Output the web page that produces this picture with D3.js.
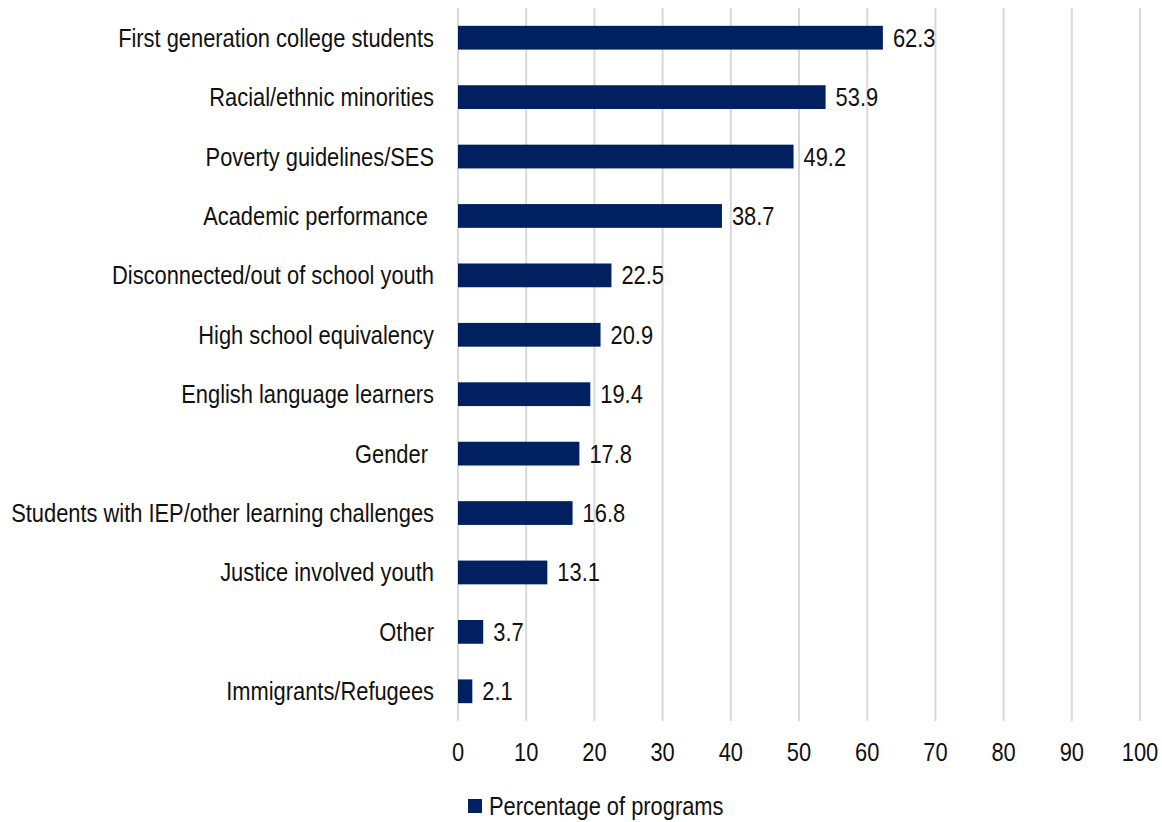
<!DOCTYPE html>
<html>
<head>
<meta charset="utf-8">
<script src="https://cdn.jsdelivr.net/npm/d3@7"></script>
<style>
  body { margin: 0; background: #fff; }
  text { font-family: "Liberation Sans", Arial, sans-serif; fill: #111; white-space: pre; }
</style>
</head>
<body>
<div class="chart"></div>
<script>
const categories = [
    "First generation college students",
    "Racial/ethnic minorities",
    "Poverty guidelines/SES",
    "Academic performance ",
    "Disconnected/out of school youth",
    "High school equivalency",
    "English language learners",
    "Gender ",
    "Students with IEP/other learning challenges",
    "Justice involved youth",
    "Other",
    "Immigrants/Refugees"
];
const values = [62.3, 53.9, 49.2, 38.7, 22.5, 20.9, 19.4, 17.8, 16.8, 13.1, 3.7, 2.1];
const tickValues = [0, 10, 20, 30, 40, 50, 60, 70, 80, 90, 100];
const seriesName = "Percentage of programs";

const width = 1162, height = 822;
const fontSize = 25;
const squeeze = 0.875; // the reference text is a bit condensed

const svg = d3.select(".chart").append("svg")
    .attr("width", width)
    .attr("height", height);

const x = d3.scaleLinear()
    .domain([0, 100])
    .range([458, 1140]);

const y = d3.scaleBand()
    .domain(categories)
    .range([8, 721])
    .paddingInner(0.6)
    .paddingOuter(0.3);

function place(px, py) {
    return `translate(${px},${py}) scale(${squeeze},1)`;
}

// gridlines
svg.append("g")
    .selectAll("line")
    .data(tickValues)
    .enter().append("line")
    .attr("x1", d => x(d))
    .attr("x2", d => x(d))
    .attr("y1", 8)
    .attr("y2", 721)
    .attr("stroke", "#d9d9d9")
    .attr("stroke-width", 2);

// tick labels
svg.append("g")
    .selectAll("text")
    .data(tickValues)
    .enter().append("text")
    .attr("transform", d => place(x(d), 761))
    .attr("text-anchor", "middle")
    .style("font-size", fontSize + "px")
    .text(d => d);

// bars
const data = categories.map((c, i) => ({ name: c, value: values[i] }));

svg.append("g")
    .selectAll("rect")
    .data(data)
    .enter().append("rect")
    .attr("x", x(0))
    .attr("y", d => y(d.name))
    .attr("width", d => x(d.value) - x(0))
    .attr("height", y.bandwidth())
    .attr("fill", "#002060");

// value labels
svg.append("g")
    .selectAll("text")
    .data(data)
    .enter().append("text")
    .attr("transform", d => place(x(d.value) + 10, y(d.name) + y.bandwidth() / 2))
    .attr("dy", "0.36em")
    .style("font-size", fontSize + "px")
    .text(d => d.value.toFixed(1));

// category labels
svg.append("g")
    .selectAll("text")
    .data(data)
    .enter().append("text")
    .attr("transform", d => place(434, y(d.name) + y.bandwidth() / 2))
    .attr("dy", "0.36em")
    .attr("text-anchor", "end")
    .style("font-size", fontSize + "px")
    .text(d => d.name);

// legend
const legend = svg.append("g");
legend.append("rect")
    .attr("x", 468)
    .attr("y", 799)
    .attr("width", 14)
    .attr("height", 14)
    .attr("fill", "#002060");
legend.append("text")
    .attr("transform", place(489, 815))
    .style("font-size", fontSize + "px")
    .text(seriesName);
</script>
</body>
</html>
